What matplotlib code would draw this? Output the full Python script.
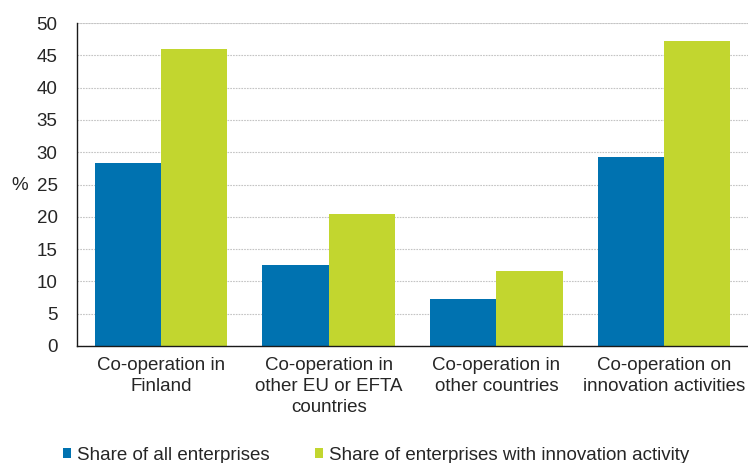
import numpy as np
import matplotlib.pyplot as plt

plt.rcParams["font.family"] = ["Liberation Sans", "DejaVu Sans"]

categories = [
    "Co-operation in\nFinland",
    "Co-operation in\nother EU or EFTA\ncountries",
    "Co-operation in\nother countries",
    "Co-operation on\ninnovation activities",
]
all_enterprises = [28.3, 12.6, 7.3, 29.3]
innovative_enterprises = [46.0, 20.4, 11.6, 47.2]
series_names = ["Share of all enterprises", "Share of enterprises with innovation activity"]
y_ticks = list(range(0, 51, 5))

BLUE = "#0072b0"
GREEN = "#c2d62f"
TEXT = "#262626"
FS = 13.5

fig = plt.figure(figsize=(7.48, 4.63), dpi=100)
ax = fig.add_axes([77 / 748, 1 - 346 / 463, 671 / 748, 323 / 463])

x = np.arange(len(categories))
w = 0.395
b1 = ax.bar(x - w / 2, all_enterprises, w, color=BLUE, label=series_names[0], zorder=3)
b2 = ax.bar(x + w / 2, innovative_enterprises, w, color=GREEN, label=series_names[1], zorder=3)

ax.set_xlim(-0.5, 3.5)
ax.set_ylim(0, 50)
ax.set_yticks(y_ticks)
ax.set_xticks(x)
ax.set_xticklabels(categories, fontsize=FS, color=TEXT, linespacing=1.3)
ax.tick_params(axis="y", labelsize=FS, labelcolor=TEXT, length=0, pad=14)
ax.tick_params(axis="x", length=0, pad=8)

ax.grid(axis="y", color="#c4c4c4", linestyle=(0, (1.5, 1)), linewidth=0.8, zorder=0)
ax.axhline(50, color="#d8d8d8", linewidth=1.2, zorder=1)
for s in ["top", "right"]:
    ax.spines[s].set_visible(False)
for s in ["left", "bottom"]:
    ax.spines[s].set_color("#1a1a1a")
    ax.spines[s].set_linewidth(1.0)
    ax.spines[s].set_zorder(4)

fig.text(20 / 748, 1 - 186 / 463, "%", fontsize=FS, color=TEXT, ha="center", va="center")

leg = fig.legend(
    handles=[b1, b2],
    loc="center left",
    bbox_to_anchor=(63 / 748, 1 - 455 / 463),
    ncol=2,
    frameon=False,
    fontsize=FS,
    handlelength=0.45,
    handleheight=0.45,
    handletextpad=0.3,
    columnspacing=2.4,
    borderaxespad=0,
    borderpad=0,
)
for t in leg.get_texts():
    t.set_color(TEXT)

fig.savefig("out.png", dpi=100)
